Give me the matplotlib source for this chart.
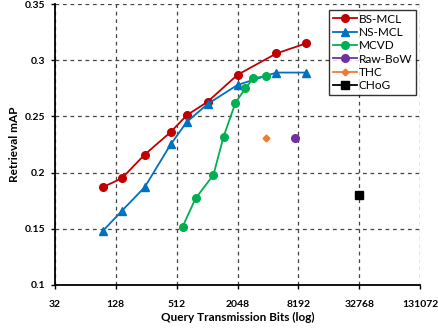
import matplotlib
matplotlib.use("Agg")
import matplotlib.pyplot as plt
import numpy as np

plt.rcParams['font.family'] = ['Lato', 'DejaVu Sans']

bs_x = [95, 147, 247, 446, 644, 1036, 2048, 4970, 9800]
bs_y = [0.187, 0.195, 0.216, 0.236, 0.251, 0.263, 0.287, 0.306, 0.315]
ns_x = [95, 147, 247, 446, 644, 1036, 2048, 4970, 9800]
ns_y = [0.148, 0.166, 0.187, 0.225, 0.245, 0.261, 0.278, 0.289, 0.289]
mcvd_x = [587, 787, 1184, 1490, 1953, 2450, 2940, 3950]
mcvd_y = [0.152, 0.177, 0.198, 0.232, 0.262, 0.275, 0.284, 0.286]
raw_x = [7640]
raw_y = [0.231]
thc_x = [3950]
thc_y = [0.231]
chog_x = [32768]
chog_y = [0.180]
xticks = [32, 128, 512, 2048, 8192, 32768, 131072]
yticks = [0.1, 0.15, 0.2, 0.25, 0.3, 0.35]
ytick_labels = ['0.1', '0.15', '0.2', '0.25', '0.3', '0.35']

fig = plt.figure(figsize=(4.38, 3.31), dpi=100)
ax = fig.add_axes([55/438, 1-285/331, (420-55)/438, (285-4)/331])

ax.plot(bs_x, bs_y, '-o', color='#C00000', ms=5.5, lw=1.3, label='BS-MCL')
ax.plot(ns_x, ns_y, '-^', color='#0070C0', ms=5.5, lw=1.3, label='NS-MCL')
ax.plot(mcvd_x, mcvd_y, '-o', color='#00B050', ms=5.5, lw=1.3, label='MCVD')
ax.plot(raw_x, raw_y, '-o', color='#7030A0', ms=5.5, lw=1.3, label='Raw-BoW')
ax.plot(thc_x, thc_y, '-D', color='#ED7D31', ms=3.5, lw=1.3, label='THC')
ax.plot(chog_x, chog_y, '-s', color='black', ms=5.5, lw=1.3, label='CHoG')

ax.set_xscale('log', base=2)
ax.set_xlim(32, 131072)
ax.set_ylim(0.1, 0.35)
ax.set_xticks(xticks)
ax.set_xticklabels([str(t) for t in xticks], fontsize=7.5, fontweight='bold')
ax.xaxis.set_minor_locator(matplotlib.ticker.NullLocator())
ax.set_yticks(yticks)
ax.set_yticklabels(ytick_labels, fontsize=7.5, fontweight='bold')
ax.grid(True, which='major', linestyle=(0, (3, 3)), color='#444444', lw=0.9)
ax.set_axisbelow(True)
for s in ['top', 'right']:
    ax.spines[s].set_visible(False)
ax.spines['left'].set_linewidth(1.3)
ax.spines['bottom'].set_linewidth(1.3)
ax.tick_params(axis='x', length=3, width=1, pad=8)
ax.tick_params(axis='y', length=3, width=1, pad=4)

ax.set_xlabel('Query Transmission Bits (log)', fontsize=8.5, fontweight='bold', labelpad=2)
ax.set_ylabel('Retrieval mAP', fontsize=8.5, fontweight='bold', labelpad=3)

leg = ax.legend(loc='upper right', bbox_to_anchor=(416/438, 1-10/331), bbox_transform=fig.transFigure,
                fontsize=8.5, frameon=True, fancybox=False, edgecolor='black',
                handlelength=2.0, handletextpad=0.2, borderpad=0.3, labelspacing=0.2,
                borderaxespad=0)
leg.get_frame().set_linewidth(1.0)

fig.savefig('out.png', dpi=100)
